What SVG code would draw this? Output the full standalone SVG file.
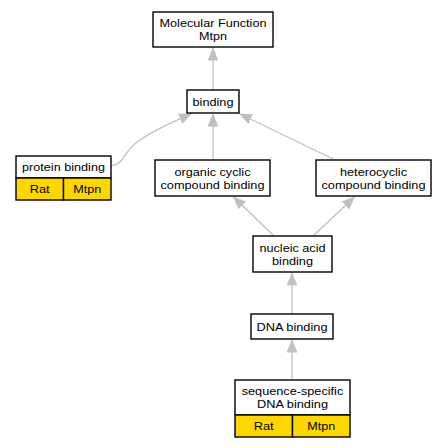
<svg xmlns="http://www.w3.org/2000/svg" width="447" height="448" viewBox="0 0 447 448">
<style>
.box{fill:#fff;stroke:#000;stroke-width:1.4}
.yel{fill:#ffd700;stroke:#000;stroke-width:1.4}
text{font-family:"Liberation Sans",Arial,sans-serif;font-size:11.5px;text-anchor:middle;fill:#000}
.e{fill:none;stroke:#c0c0c0;stroke-width:1.3}
</style>
<defs>
<marker id="a" markerWidth="13" markerHeight="11" refX="13" refY="5.5" orient="auto" markerUnits="userSpaceOnUse" viewBox="0 0 13 11">
<path d="M0,0 L13,5.5 L0,11 Z" fill="#c0c0c0"/>
</marker>
</defs>
<rect width="447" height="448" fill="#fff"/>
<g id="connectors">
<path class="e" d="M213,90 L213,47.5" marker-end="url(#a)"/>
<path class="e" d="M213,160 L213,113.5" marker-end="url(#a)"/>
<path class="e" d="M333,159 L239,113.5" marker-end="url(#a)"/>
<path class="e" d="M111,166 C125,164 122,152 140,140 C158,128 175,121 192,113.5" marker-end="url(#a)"/>
<path class="e" d="M274,236 L233,196.5" marker-end="url(#a)"/>
<path class="e" d="M313,236 L355,196.5" marker-end="url(#a)"/>
<path class="e" d="M292,314 L292,272.5" marker-end="url(#a)"/>
<path class="e" d="M292,379 L292,339.5" marker-end="url(#a)"/>
</g>
<g id="mf">
<rect class="box" x="153" y="12" width="120" height="35"/>
<text x="213" y="27" textLength="107" lengthAdjust="spacingAndGlyphs">Molecular Function</text>
<text x="213" y="40" textLength="28" lengthAdjust="spacingAndGlyphs">Mtpn</text>
</g>
<g id="binding">
<rect class="box" x="187" y="90" width="52" height="23"/>
<text x="213" y="105.6" textLength="41" lengthAdjust="spacingAndGlyphs">binding</text>
</g>
<g id="protein">
<rect class="box" x="16" y="156" width="95" height="22"/>
<rect class="yel" x="16" y="178" width="47.5" height="22"/>
<rect class="yel" x="63.5" y="178" width="47.5" height="22"/>
<text x="63.5" y="171.1" textLength="83" lengthAdjust="spacingAndGlyphs">protein binding</text>
<text x="39.7" y="193.1" textLength="20" lengthAdjust="spacingAndGlyphs">Rat</text>
<text x="87.2" y="193.1" textLength="28" lengthAdjust="spacingAndGlyphs">Mtpn</text>
</g>
<g id="organic">
<rect class="box" x="155" y="160" width="115" height="36"/>
<text x="212.5" y="175.6" textLength="76" lengthAdjust="spacingAndGlyphs">organic cyclic</text>
<text x="212.5" y="188.6" textLength="104" lengthAdjust="spacingAndGlyphs">compound binding</text>
</g>
<g id="hetero">
<rect class="box" x="316" y="160" width="115" height="36"/>
<text x="373.5" y="175.6" textLength="67" lengthAdjust="spacingAndGlyphs">heterocyclic</text>
<text x="373.5" y="188.6" textLength="104" lengthAdjust="spacingAndGlyphs">compound binding</text>
</g>
<g id="nucleic">
<rect class="box" x="253" y="236" width="79" height="36"/>
<text x="292.5" y="251.6" textLength="66" lengthAdjust="spacingAndGlyphs">nucleic acid</text>
<text x="292.5" y="264.6" textLength="41" lengthAdjust="spacingAndGlyphs">binding</text>
</g>
<g id="dna">
<rect class="box" x="251" y="314" width="82" height="25"/>
<text x="292" y="330.6" textLength="71" lengthAdjust="spacingAndGlyphs">DNA binding</text>
</g>
<g id="seq">
<rect class="box" x="235" y="380" width="115" height="35"/>
<rect class="yel" x="235" y="415" width="57.5" height="22"/>
<rect class="yel" x="292.5" y="415" width="57.5" height="22"/>
<text x="292.5" y="395.1" textLength="101.6" lengthAdjust="spacingAndGlyphs">sequence-specific</text>
<text x="292.5" y="408.1" textLength="71" lengthAdjust="spacingAndGlyphs">DNA binding</text>
<text x="263.7" y="430.1" textLength="20" lengthAdjust="spacingAndGlyphs">Rat</text>
<text x="321.2" y="430.1" textLength="28" lengthAdjust="spacingAndGlyphs">Mtpn</text>
</g>
</svg>
